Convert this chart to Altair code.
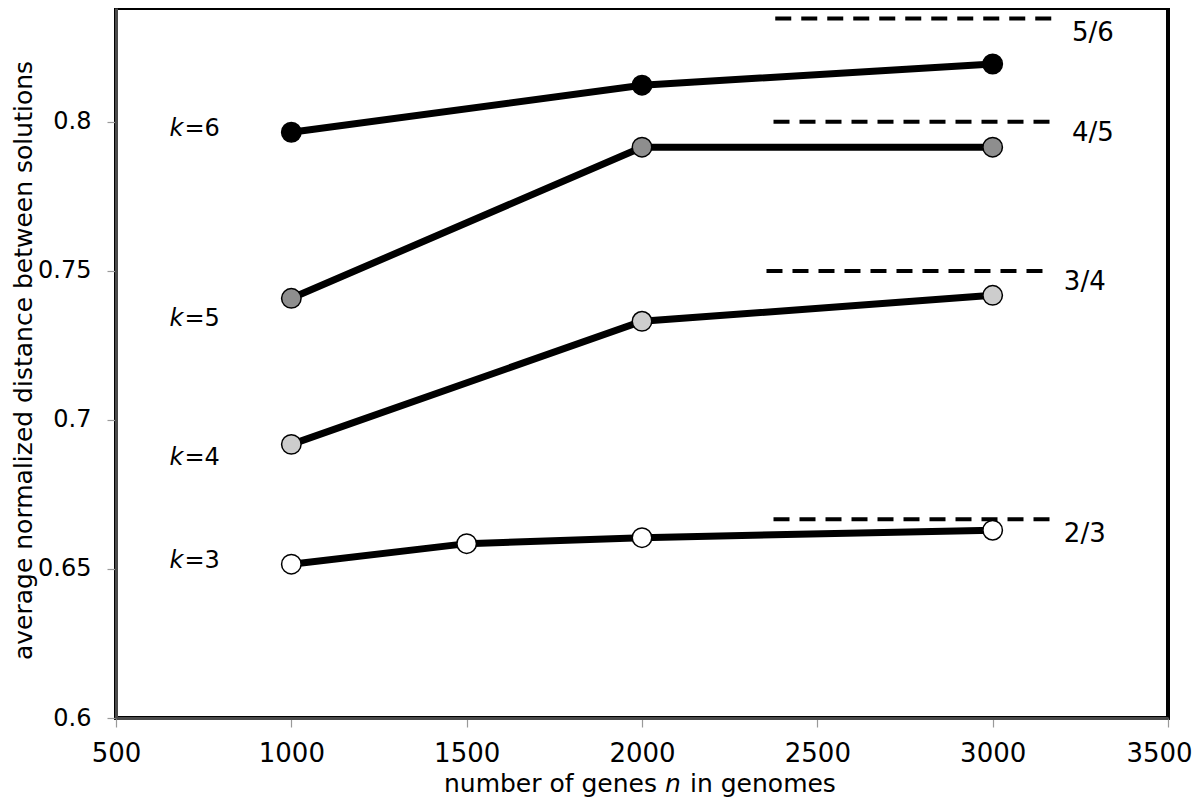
import altair as alt
import pandas as pd

# ---- data ----
k_series = ["k=3"] * 4 + ["k=4"] * 3 + ["k=5"] * 3 + ["k=6"] * 3
n_values = [1000, 1500, 2000, 3000, 1000, 2000, 3000, 1000, 2000, 3000, 1000, 2000, 3000]
dist_values = [0.6516, 0.6585, 0.6605, 0.6630,
               0.6918, 0.7331, 0.7418,
               0.7408, 0.7915, 0.7915,
               0.7965, 0.8123, 0.8194]

k_names = ["k=3", "k=4", "k=5", "k=6"]
k_fills = ["#ffffff", "#cdcdcd", "#8e8e8e", "#000000"]

# asymptotes (k-1)/k
limit_labels = ["2/3", "3/4", "4/5", "5/6"]
limit_values = [0.6667, 0.75, 0.80, 0.8347]
limit_start = [2375, 2355, 2375, 2380]
limit_end = [3165, 3143, 3163, 3170]
limit_label_x = [3203, 3203, 3226, 3226]
limit_label_y = [0.6617, 0.7464, 0.7964, 0.8299]

# k labels
klabel_suffix = ["=3", "=4", "=5", "=6"]
klabel_x = [695, 695, 695, 695]
klabel_y = [0.6526, 0.6872, 0.7338, 0.7977]

x_ticks = [500, 1000, 1500, 2000, 2500, 3000, 3500]
y_ticks = [0.6, 0.65, 0.7, 0.75, 0.8]

FONT = "DejaVu Sans"
W, H = 1052, 710

df = pd.DataFrame({"k": k_series, "n": n_values, "d": dist_values})
lim = pd.DataFrame({"label": limit_labels, "v": limit_values, "x0": limit_start,
                    "x1": limit_end, "lx": limit_label_x, "ly": limit_label_y})
kl = pd.DataFrame({"suffix": klabel_suffix, "x": klabel_x, "y": klabel_y})
one = pd.DataFrame({"t": [0]})

xscale = alt.Scale(domain=[500, 3500], nice=False, zero=False)
yscale = alt.Scale(domain=[0.6, 0.8382], nice=False, zero=False)

X = alt.X("n:Q", scale=xscale,
          axis=alt.Axis(values=x_ticks, title=None, format="d", grid=False,
                        labelFlush=False,
                        labelOffset={"condition": {"test": "datum.value == 3500", "value": -9},
                                     "value": 0}))
Y = alt.Y("d:Q", scale=yscale,
          axis=alt.Axis(values=y_ticks, title="average normalized distance between solutions",
                        grid=False, labelFlush=False,
                        titleX=-105, titleY=352, titleBaseline="top", titleAngle=-90,
                        labelExpr="datum.value == 0.6 ? '0.6' : format(datum.value, '.2~f')"))

base = alt.Chart(df)
lines = base.mark_line(color="black", strokeWidth=7, strokeCap="round").encode(
    x=X, y=Y, detail="k:N")
points = base.mark_point(filled=True, shape="circle", size=380, stroke="black",
                         strokeWidth=1.5, opacity=1).encode(
    x="n:Q", y="d:Q",
    fill=alt.Fill("k:N", scale=alt.Scale(domain=k_names, range=k_fills), legend=None))

rules = alt.Chart(lim).mark_rule(color="black", strokeWidth=4, strokeDash=[16, 10]).encode(
    x=alt.X("x0:Q", scale=xscale), x2="x1:Q", y=alt.Y("v:Q", scale=yscale))
rule_labels = alt.Chart(lim).mark_text(align="left", baseline="middle", font=FONT,
                                       fontSize=26, color="black").encode(
    x=alt.X("lx:Q", scale=xscale), y=alt.Y("ly:Q", scale=yscale), text="label:N")

k_italic = alt.Chart(kl).mark_text(align="right", baseline="middle", font=FONT,
                                   fontSize=24, fontStyle="italic", color="black", dx=-1).encode(
    x=alt.X("x:Q", scale=xscale), y=alt.Y("y:Q", scale=yscale), text=alt.value("k"))
k_rest = alt.Chart(kl).mark_text(align="left", baseline="middle", font=FONT,
                                 fontSize=24, color="black").encode(
    x=alt.X("x:Q", scale=xscale), y=alt.Y("y:Q", scale=yscale), text="suffix:N")

# x-axis title with italic n
XT_Y = 776
XT_C = 557
XT_FS = 25
xt1 = alt.Chart(one).mark_text(align="right", baseline="middle", font=FONT, fontSize=XT_FS,
                               color="black").encode(
    x=alt.value(XT_C - 16), y=alt.value(XT_Y), text=alt.value("number of genes"))
xt2 = alt.Chart(one).mark_text(align="center", baseline="middle", font=FONT, fontSize=XT_FS,
                               fontStyle="italic", color="black").encode(
    x=alt.value(XT_C), y=alt.value(XT_Y), text=alt.value("n"))
xt3 = alt.Chart(one).mark_text(align="left", baseline="middle", font=FONT, fontSize=XT_FS,
                               color="black").encode(
    x=alt.value(XT_C + 17), y=alt.value(XT_Y), text=alt.value("in genomes"))

chart = alt.layer(rules, lines, points, rule_labels, k_italic, k_rest, xt1, xt2, xt3).properties(
    width=W, height=H,
    autosize=alt.AutoSizeParams(type="none"),
    padding={"left": 108, "top": 0, "right": 24, "bottom": 79},
).configure_view(
    stroke="black", strokeWidth=4
).configure_axis(
    labelFont=FONT, labelColor="black",
    titleFont=FONT, titleFontSize=25, titleColor="black", titleFontWeight="normal",
    domainColor="#4a4a4a", domainWidth=3,
    tickColor="#9a9a9a", tickSize=9, tickWidth=1.2,
).configure_axisY(
    labelPadding=16, labelFontSize=24
).configure_axisX(
    labelPadding=13, labelFontSize=26
)

chart.save("out.html", embed_options={"renderer": "svg", "actions": False})
